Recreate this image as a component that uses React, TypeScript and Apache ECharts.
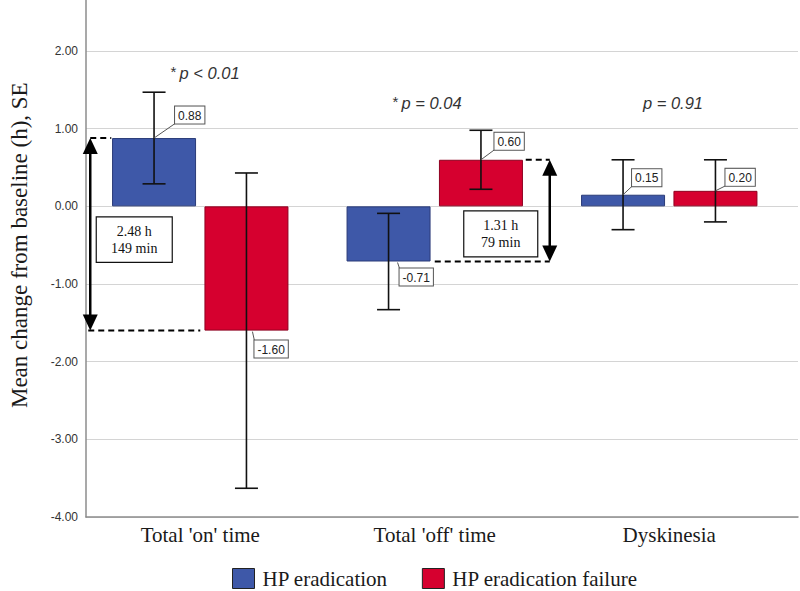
import React, { useEffect, useRef } from "react";
import * as echarts from "echarts";

// ---- data ----
const categories = ["Total 'on' time", "Total 'off' time", "Dyskinesia"];
const eradication = [0.88, -0.71, 0.15];
const eradicationSE = [0.59, 0.62, 0.45];
const failure = [-1.6, 0.6, 0.2];
const failureSE = [2.03, 0.38, 0.4];
const seriesNames = ["HP eradication", "HP eradication failure"];
const pTexts = ["p < 0.01", "p = 0.04", "p = 0.91"];
const pStar = [true, true, false];
const diffPairs = [
  { cat: 0, top: 0.88, bottom: -1.6, text: "2.48 h\n149 min" },
  { cat: 1, top: 0.6, bottom: -0.71, text: "1.31 h\n79 min" },
];
const yMin = -4;
const yMax = 3;
const yInterval = 1;

// ---- layout / style (not data) ----
const OY = 40; // chart container shifted up by this many px
const BLUE = "#3E58A8";
const RED = "#D6002F";
const BAR_W = 84;
const BAR_OFF = 46.2;
const SANS = "Liberation Sans, Arial, sans-serif";
const SERIF = "Liberation Serif, Times New Roman, serif";
// label box offsets per bar (eradication items first, then failure)
const labelOffsets = [
  [21, -14.5],
  [11, 7],
  [9, -8.5],
  [8, 10],
  [13.5, -10],
  [10, -5],
];
const diffLayout = [
  { ax: -110, topDash: [-110, -89], botDash: [-112, 0], box: [-104, 10.5, 76, 45.5] },
  { ax: 115, topDash: [91, 115], botDash: [0, 115], box: [29, 4.5, 74, 46] },
];
const pPos = [
  [205, 73],
  [427, 103],
  [673, 103],
];

export default function App() {
  const ref = useRef<HTMLDivElement>(null);
  useEffect(() => {
    if (!ref.current) return;
    const chart = echarts.init(ref.current, undefined, { renderer: "svg" });

    const gridTop = 13.4;
    const gridH = 543.6;

    const errData: any[] = [];
    eradication.forEach((v, i) => errData.push([i, v - eradicationSE[i], v + eradicationSE[i], -1]));
    failure.forEach((v, i) => errData.push([i, v - failureSE[i], v + failureSE[i], 1]));

    const labData: any[] = [];
    eradication.forEach((v, i) => labData.push([i, v, -1]));
    failure.forEach((v, i) => labData.push([i, v, 1]));

    const diffData = diffPairs.map((d) => [d.cat, d.top, d.bottom]);

    const option: any = {
      animation: false,
      backgroundColor: "#fff",
      grid: [
        { left: 71, right: 2, top: gridTop, height: gridH },
        { left: 83, width: 703.5, top: gridTop, height: gridH },
      ],
      xAxis: [
        {
          gridIndex: 0,
          type: "value",
          min: 0,
          max: 1,
          axisLine: { show: true, onZero: false, lineStyle: { color: "#8c8c8c", width: 1.5 } },
          axisTick: { show: false },
          axisLabel: { show: false },
          splitLine: { show: false },
        },
        {
          gridIndex: 1,
          type: "category",
          data: categories,
          axisLine: { show: false },
          axisTick: { show: false },
          axisLabel: { fontFamily: SERIF, fontSize: 21, color: "#1a1a1a", margin: 7 },
        },
      ],
      yAxis: [
        {
          gridIndex: 0,
          type: "value",
          min: yMin,
          max: yMax,
          interval: yInterval,
          name: "Mean change from baseline (h), SE",
          nameLocation: "middle",
          nameGap: 55,
          nameTextStyle: { fontFamily: SERIF, fontSize: 23, color: "#1a1a1a" },
          axisLine: { show: true, lineStyle: { color: "#8c8c8c", width: 1.5 } },
          axisTick: { show: false },
          axisLabel: {
            fontFamily: SANS,
            fontSize: 12,
            color: "#333",
            margin: 8,
            formatter: (v: number) => (v >= yMax ? "" : v.toFixed(2)),
          },
          splitLine: { show: true, lineStyle: { color: "#d4d4d4", width: 1.2 } },
        },
        {
          gridIndex: 1,
          type: "value",
          min: yMin,
          max: yMax,
          interval: yInterval,
          show: false,
          splitLine: { show: false },
        },
      ],
      legend: {
        data: seriesNames,
        left: 232,
        top: 568 + OY,
        padding: 0,
        itemWidth: 22,
        itemHeight: 20,
        itemGap: 34,
        icon: "rect",
        itemStyle: { borderColor: "#222", borderWidth: 1 },
        textStyle: { fontFamily: SERIF, fontSize: 21, lineHeight: 19, color: "#1a1a1a", padding: [0, 0, 0, 3] },
      },
      graphic: pTexts.map((t, i) => ({
        type: "text",
        x: pPos[i][0],
        y: pPos[i][1] + OY,
        style: {
          text: (pStar[i] ? "{s|*} " : "") + "{p|" + t + "}",
          align: "center",
          verticalAlign: "middle",
          rich: {
            s: { fontFamily: SANS, fontSize: 15, fill: "#333", verticalAlign: "top", padding: [0, 0, 4, 0] },
            p: { fontFamily: SANS, fontSize: 16.5, fontStyle: "italic", fill: "#333" },
          },
        },
      })),
      series: [
        {
          name: seriesNames[0],
          type: "bar",
          xAxisIndex: 1,
          yAxisIndex: 1,
          data: eradication,
          barWidth: BAR_W,
          barGap: "10%",
          itemStyle: { color: BLUE, borderColor: "#2a3b78", borderWidth: 1 },
        },
        {
          name: seriesNames[1],
          type: "bar",
          xAxisIndex: 1,
          yAxisIndex: 1,
          data: failure,
          barWidth: BAR_W,
          barGap: "10%",
          itemStyle: { color: RED, borderColor: "#8f0020", borderWidth: 1 },
        },
        {
          type: "custom",
          xAxisIndex: 1,
          yAxisIndex: 1,
          data: errData,
          z: 5,
          silent: true,
          renderItem: (params: any, api: any) => {
            const cat = api.value(0);
            const lo = api.value(1);
            const hi = api.value(2);
            const side = api.value(3);
            const cx = api.coord([cat, 0])[0] + side * BAR_OFF;
            const yLo = api.coord([cat, lo])[1];
            const yHi = api.coord([cat, hi])[1];
            const st = { stroke: "#111", lineWidth: 1.6 };
            return {
              type: "group",
              children: [
                { type: "line", shape: { x1: cx, y1: yLo, x2: cx, y2: yHi }, style: st },
                { type: "line", shape: { x1: cx - 11.5, y1: yLo, x2: cx + 11.5, y2: yLo }, style: st },
                { type: "line", shape: { x1: cx - 11.5, y1: yHi, x2: cx + 11.5, y2: yHi }, style: st },
              ],
            };
          },
        },
        {
          type: "custom",
          xAxisIndex: 1,
          yAxisIndex: 1,
          data: labData,
          z: 6,
          silent: true,
          renderItem: (params: any, api: any) => {
            const cat = api.value(0);
            const v = api.value(1);
            const side = api.value(2);
            const p = api.coord([cat, v]);
            const cx = p[0] + side * BAR_OFF;
            const y = p[1];
            const off = labelOffsets[params.dataIndex];
            const bx = cx + off[0];
            const by = y + off[1];
            const pos = v >= 0;
            const leader = pos
              ? { x1: cx, y1: y, x2: bx, y2: by }
              : { x1: bx - 2, y1: y + 1, x2: bx, y2: by };
            return {
              type: "group",
              children: [
                { type: "line", shape: leader, style: { stroke: "#555", lineWidth: 1 } },
                {
                  type: "text",
                  x: bx,
                  y: by,
                  style: {
                    text: v.toFixed(2),
                    align: "left",
                    verticalAlign: pos ? "bottom" : "top",
                    fontFamily: SANS,
                    fontSize: 12,
                    fill: "#222",
                    backgroundColor: "#fff",
                    borderColor: "#555",
                    borderWidth: 1,
                    padding: [3, 3, 2, 3],
                  },
                },
              ],
            };
          },
        },
        {
          type: "custom",
          xAxisIndex: 1,
          yAxisIndex: 1,
          data: diffData,
          z: 7,
          silent: true,
          renderItem: (params: any, api: any) => {
            const i = params.dataIndex;
            const L = diffLayout[i];
            const cat = api.value(0);
            const c0 = api.coord([cat, 0]);
            const cx = c0[0];
            const y0 = c0[1];
            const yt = api.coord([cat, api.value(1)])[1];
            const yb = api.coord([cat, api.value(2)])[1];
            const ax = cx + L.ax;
            const dash = { stroke: "#000", lineWidth: 2, lineDash: [6, 4] };
            const head = 16;
            const hw = 7.5;
            return {
              type: "group",
              children: [
                { type: "line", shape: { x1: cx + L.topDash[0], y1: yt, x2: cx + L.topDash[1], y2: yt }, style: dash },
                { type: "line", shape: { x1: cx + L.botDash[0], y1: yb, x2: cx + L.botDash[1], y2: yb }, style: dash },
                { type: "line", shape: { x1: ax, y1: yt + head - 2, x2: ax, y2: yb - head + 2 }, style: { stroke: "#000", lineWidth: 2.5 } },
                { type: "polygon", shape: { points: [[ax, yt], [ax - hw, yt + head], [ax + hw, yt + head]] }, style: { fill: "#000" } },
                { type: "polygon", shape: { points: [[ax, yb], [ax - hw, yb - head], [ax + hw, yb - head]] }, style: { fill: "#000" } },
                {
                  type: "rect",
                  shape: { x: cx + L.box[0], y: y0 + L.box[1], width: L.box[2], height: L.box[3] },
                  style: { fill: "#fff", stroke: "#111", lineWidth: 1.2 },
                },
                {
                  type: "text",
                  x: cx + L.box[0] + L.box[2] / 2,
                  y: y0 + L.box[1] + L.box[3] / 2,
                  style: {
                    text: diffPairs[i].text,
                    align: "center",
                    verticalAlign: "middle",
                    fontFamily: SERIF,
                    fontSize: 14,
                    lineHeight: 17,
                    fill: "#111",
                  },
                },
              ],
            };
          },
        },
      ],
    };
    chart.setOption(option);
    return () => chart.dispose();
  }, []);

  return (
    <div
      ref={ref}
      style={{ position: "fixed", left: 0, top: -OY, width: 800, height: 591 + OY, background: "#fff" }}
    />
  );
}
